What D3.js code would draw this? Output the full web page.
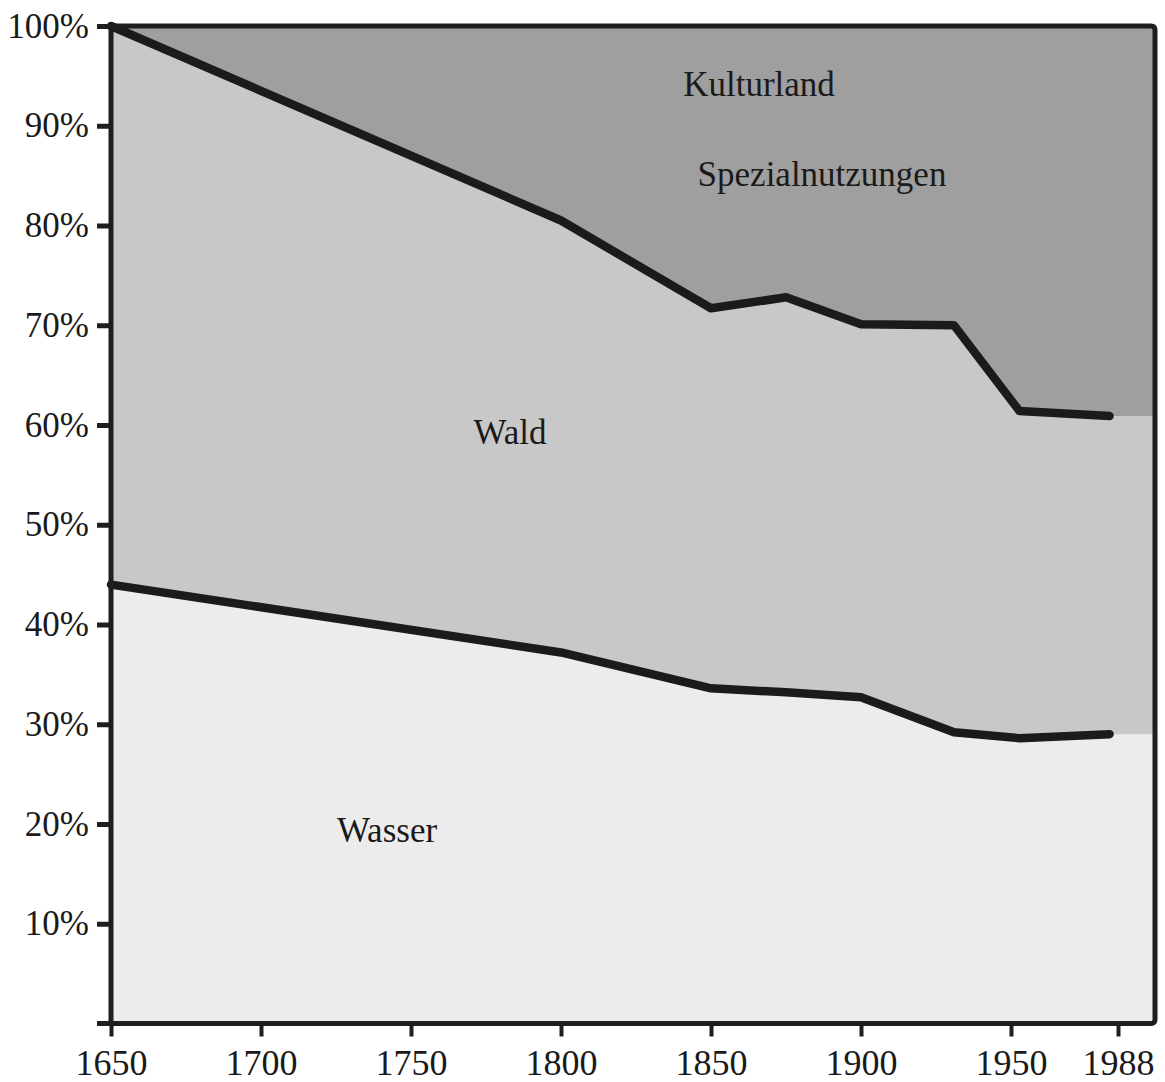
<!DOCTYPE html>
<html>
<head>
<meta charset="utf-8">
<script src="https://cdn.jsdelivr.net/npm/d3@7"></script>
<style>
  html, body { margin: 0; padding: 0; background: #ffffff; }
  svg text { font-family: "Liberation Serif", "Times New Roman", serif; fill: #1a1a1a; }
</style>
</head>
<body>
<svg id="chart" width="1165" height="1082"></svg>
<script>
// ---- data ----
const years      = [1650, 1800, 1850, 1875, 1900, 1931, 1953, 1985];
const wasser     = [44.0, 37.2, 33.6, 33.2, 32.7, 29.2, 28.6, 29.0];
const wald       = [56.0, 43.3, 38.1, 39.6, 37.4, 40.8, 32.8, 31.9];
const kulturland = [ 0.0, 19.5, 28.3, 27.2, 29.9, 30.0, 38.6, 39.1];
const seriesKeys = ["wasser", "wald", "kulturland"];
const xTickValues = [1650, 1700, 1750, 1800, 1850, 1900, 1950, 1988];
const yTickValues = [10, 20, 30, 40, 50, 60, 70, 80, 90, 100];
const regionLabels = [
  { text: "Kulturland",       year: 1866, value: 93.0 },
  { text: "Spezialnutzungen", year: 1887, value: 84.0 },
  { text: "Wald",             year: 1783, value: 58.1 },
  { text: "Wasser",           year: 1742, value: 18.2 }
];

// ---- layout ----
const plotLeft = 111, plotRight = 1155, plotTop = 26, plotBottom = 1023.5;
const fills = { wasser: "#ececec", wald: "#c8c8c8", kulturland: "#9f9f9f" };

const svg = d3.select("#chart");

const x = d3.scaleLinear().domain([1650, 1950, 1988]).range([plotLeft, 1011, 1118]);
const y = d3.scaleLinear().domain([0, 100]).range([plotBottom, plotTop]);

const rows = years.map((yr, i) => ({ year: yr, wasser: wasser[i], wald: wald[i], kulturland: kulturland[i] }));
const stacked = d3.stack().keys(seriesKeys)(rows);

// areas: data points, then extended flat to the right frame
const area = d3.area()
  .x(d => d.px)
  .y0(d => y(d.v0))
  .y1(d => y(d.v1));

stacked.forEach(s => {
  const pts = s.map(d => ({ px: x(d.data.year), v0: d[0], v1: d[1] }));
  const last = pts[pts.length - 1];
  pts.push({ px: plotRight, v0: last.v0, v1: last.v1 });
  svg.append("path")
    .attr("d", area(pts))
    .attr("fill", fills[s.key]);
});

// boundary lines (top of Wasser, top of Wald)
const line = d3.line().x(d => x(d.data.year)).y(d => y(d[1]));
[stacked[0], stacked[1]].forEach(s => {
  svg.append("path")
    .attr("d", line(s))
    .attr("fill", "none")
    .attr("stroke", "#1b1b1b")
    .attr("stroke-width", 8.5)
    .attr("stroke-linejoin", "round")
    .attr("stroke-linecap", "round");
});

// frame
svg.append("path")
  .attr("d", `M${plotLeft},${y(0)} L${plotLeft},${y(100)} L${plotRight - 4},${y(100)} Q${plotRight},${y(100)} ${plotRight},${y(100) + 4} L${plotRight},${y(0) - 4} Q${plotRight},${y(0)} ${plotRight - 4},${y(0)} Z`)
  .attr("fill", "none")
  .attr("stroke", "#1e1e1e")
  .attr("stroke-width", 5);

// y axis
const yAxis = svg.append("g")
  .attr("transform", `translate(${plotLeft},0)`)
  .call(d3.axisLeft(y).tickValues(yTickValues).tickSize(14).tickPadding(8).tickFormat(d => d + "%"));
yAxis.select(".domain").remove();
yAxis.selectAll(".tick line").attr("stroke", "#1e1e1e").attr("stroke-width", 5);
yAxis.selectAll(".tick text").attr("font-size", 35).attr("fill", "#1a1a1a")
  .attr("font-family", "'Liberation Serif', 'Times New Roman', serif");
// 0% tick (no label)
svg.append("line").attr("x1", plotLeft - 14).attr("x2", plotLeft).attr("y1", y(0)).attr("y2", y(0))
  .attr("stroke", "#1e1e1e").attr("stroke-width", 5);

// x axis
const xAxis = svg.append("g")
  .attr("transform", `translate(0,${plotBottom})`)
  .call(d3.axisBottom(x).tickValues(xTickValues).tickSize(13).tickPadding(13).tickFormat(d3.format("d")));
xAxis.select(".domain").remove();
xAxis.selectAll(".tick line").attr("stroke", "#1e1e1e").attr("stroke-width", 4);
xAxis.selectAll(".tick text").attr("font-size", 36).attr("fill", "#1a1a1a")
  .attr("font-family", "'Liberation Serif', 'Times New Roman', serif");

// region labels
svg.selectAll("text.region")
  .data(regionLabels)
  .enter().append("text")
  .attr("class", "region")
  .attr("x", d => x(d.year))
  .attr("y", d => y(d.value))
  .attr("text-anchor", "middle")
  .attr("font-size", 35)
  .text(d => d.text);
</script>
</body>
</html>
